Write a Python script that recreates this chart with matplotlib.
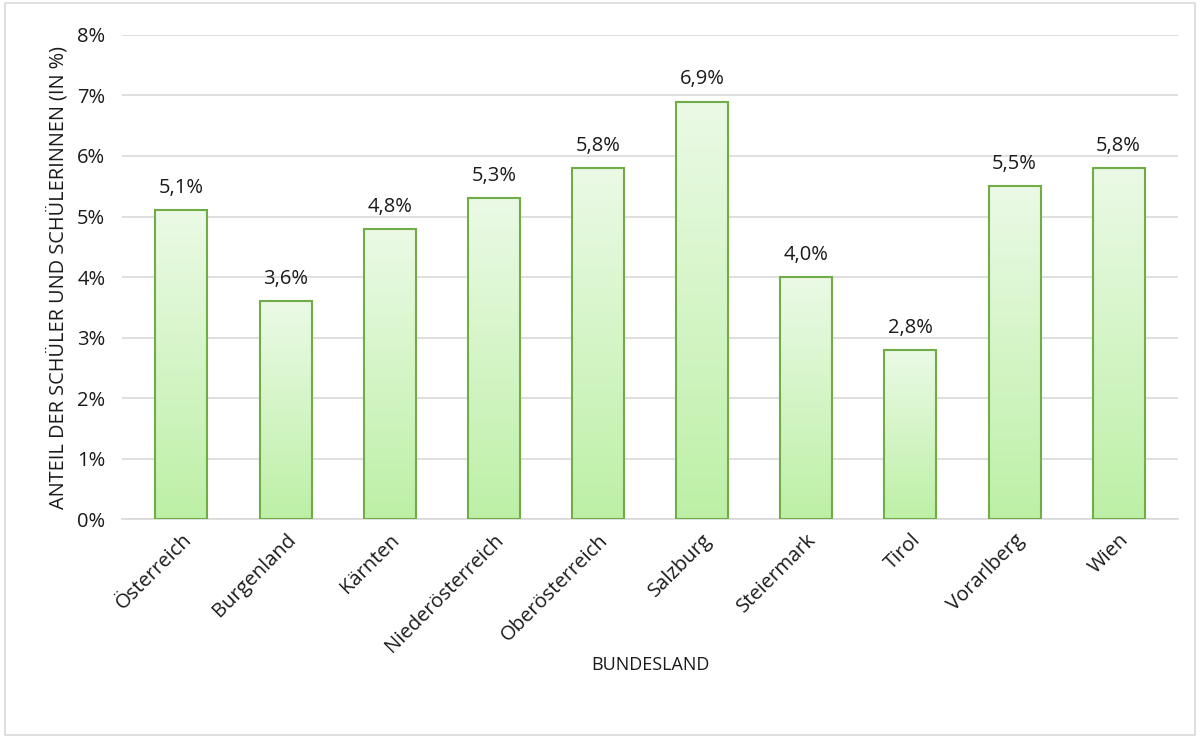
import numpy as np
import matplotlib
matplotlib.use("Agg")
import matplotlib.pyplot as plt
from matplotlib.colors import LinearSegmentedColormap
from matplotlib.ticker import FuncFormatter
from matplotlib.patches import Rectangle

plt.rcParams["font.family"] = ["Open Sans", "DejaVu Sans"]

laender = ["Österreich", "Burgenland", "Kärnten", "Niederösterreich", "Oberösterreich",
           "Salzburg", "Steiermark", "Tirol", "Vorarlberg", "Wien"]
anteil = [5.1, 3.6, 4.8, 5.3, 5.8, 6.9, 4.0, 2.8, 5.5, 5.8]

fig = plt.figure(figsize=(12, 7.38), dpi=100)
ax = fig.add_axes([0.1017, 0.2967, 0.88, 0.6559])

# light outer frame around the whole chart
fig.patches.append(Rectangle((0.004, 0.004), 0.992, 0.992, transform=fig.transFigure,
                             fill=False, edgecolor="#d9d9d9", linewidth=1.2))

x = np.arange(len(laender))
bars = ax.bar(x, anteil, width=0.5, color="none", edgecolor="#70ad47", linewidth=1.5, zorder=3)

grad = LinearSegmentedColormap.from_list("gruen", ["#bdf0a6", "#ebfae6"])
ramp = np.linspace(0, 1, 256).reshape(-1, 1)
for b, v in zip(bars, anteil):
    x0, w = b.get_x(), b.get_width()
    ax.imshow(ramp, cmap=grad, origin="lower", aspect="auto",
              extent=(x0, x0 + w, 0, v), zorder=2)
    ax.text(b.get_x() + w / 2, v + 0.2, f"{v:.1f}%".replace(".", ","),
            ha="center", va="bottom", fontsize=14.5, color="#1a1a1a")

ax.set_xlim(-0.57, len(laender) - 0.43)
ax.set_ylim(0, 8)
ax.set_yticks(range(0, 9))
ax.yaxis.set_major_formatter(FuncFormatter(lambda v, _: f"{v:.0f}%"))
ax.set_xticks(x)
ax.set_xticklabels(laender, rotation=45, ha="right", rotation_mode="anchor")
ax.tick_params(axis="both", length=0, labelsize=14.5, colors="#1a1a1a")
ax.tick_params(axis="x", pad=8)
ax.tick_params(axis="y", pad=12)

ax.grid(axis="y", color="#d9d9d9", linewidth=1.2, zorder=0)
for s in ["top", "right", "left"]:
    ax.spines[s].set_visible(False)
ax.spines["bottom"].set_color("#d9d9d9")
ax.spines["bottom"].set_linewidth(1.2)

ax.set_ylabel("ANTEIL DER SCHÜLER UND SCHÜLERINNEN (IN %)", fontsize=14.3, color="#1a1a1a", labelpad=6)
ax.set_xlabel("BUNDESLAND", fontsize=13, color="#1a1a1a", labelpad=0)

fig.savefig("out.png", dpi=100)
